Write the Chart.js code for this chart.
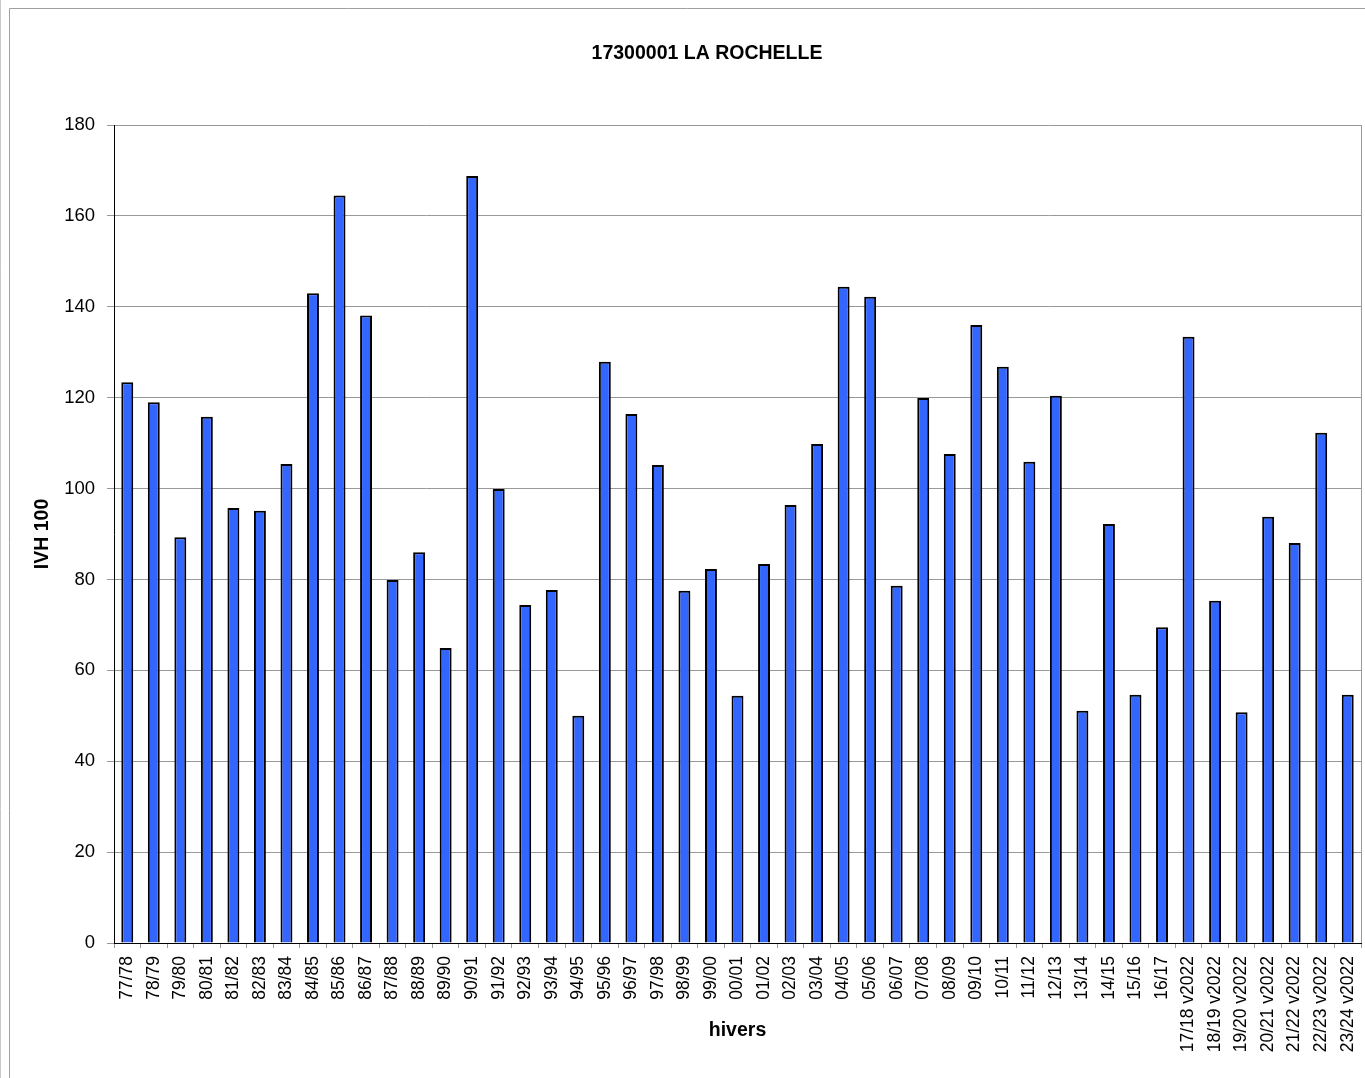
<!DOCTYPE html>
<html>
<head>
<meta charset="utf-8">
<script src="https://cdn.jsdelivr.net/npm/chart.js@4/dist/chart.umd.min.js"></script>
<style>
  html, body { margin: 0; padding: 0; background: #fff; }
  #wrap { width: 1365px; height: 1078px; }
</style>
</head>
<body>
<div id="wrap"><canvas id="ivhChart" width="1365" height="1078"></canvas></div>
<script>
const chartTitle = '17300001 LA ROCHELLE';
const winters = [
    '77/78', '78/79', '79/80', '80/81', '81/82', '82/83', '83/84', '84/85', '85/86', '86/87',
    '87/88', '88/89', '89/90', '90/91', '91/92', '92/93', '93/94', '94/95', '95/96', '96/97',
    '97/98', '98/99', '99/00', '00/01', '01/02', '02/03', '03/04', '04/05', '05/06', '06/07',
    '07/08', '08/09', '09/10', '10/11', '11/12', '12/13', '13/14', '14/15', '15/16', '16/17',
    '17/18 v2022', '18/19 v2022', '19/20 v2022', '20/21 v2022', '21/22 v2022', '22/23 v2022', '23/24 v2022'
];
const ivhValues = [
    123.4, 119.0, 89.3, 115.8, 95.7, 95.1, 105.4, 143.0, 164.5, 138.1,
    79.9, 86.0, 64.9, 168.8, 99.9, 74.4, 77.7, 50.0, 127.9, 116.4,
    105.2, 77.5, 82.3, 54.4, 83.4, 96.4, 109.8, 144.4, 142.2, 78.6,
    119.9, 107.6, 136.0, 126.8, 105.9, 120.4, 51.1, 92.2, 54.6, 69.5,
    133.4, 75.3, 50.8, 93.8, 88.0, 112.3, 54.6
];
const yTicks = [0, 20, 40, 60, 80, 100, 120, 140, 160, 180];

const FONT = 'Arial, "Liberation Sans", sans-serif';

// frame, right border of the plot and the title
const decorations = {
    id: 'decorations',
    afterDraw(chart) {
        const ctx = chart.ctx;
        const area = chart.chartArea;
        ctx.save();
        ctx.strokeStyle = '#a0a0a0';
        ctx.lineWidth = 1;
        ctx.beginPath();
        ctx.moveTo(9.5, 1078);
        ctx.lineTo(9.5, 8.5);
        ctx.lineTo(1365, 8.5);
        ctx.stroke();
        ctx.strokeStyle = '#c8c8c8';
        ctx.beginPath();
        ctx.moveTo(0.5, 0);
        ctx.lineTo(0.5, 1078);
        ctx.stroke();
        ctx.strokeStyle = '#999999';
        ctx.beginPath();
        ctx.moveTo(Math.round(area.right) + 0.5, area.top);
        ctx.lineTo(Math.round(area.right) + 0.5, area.bottom);
        ctx.stroke();
        ctx.fillStyle = '#000';
        ctx.font = 'bold 19.5px ' + FONT;
        ctx.textAlign = 'center';
        ctx.textBaseline = 'middle';
        ctx.fillText(chartTitle, 707, 54);
        ctx.restore();
    }
};

const ctx = document.getElementById('ivhChart').getContext('2d');
new Chart(ctx, {
    type: 'bar',
    data: {
        labels: winters,
        datasets: [{
            label: 'IVH 100',
            data: ivhValues,
            backgroundColor: '#3366ff',
            borderColor: '#000000',
            borderWidth: 2,
            borderSkipped: 'start',
            barPercentage: 0.45,
            categoryPercentage: 1
        }]
    },
    options: {
        responsive: false,
        animation: false,
        layout: {
            padding: { top: 125, left: 0, right: 4, bottom: 0 }
        },
        plugins: {
            legend: { display: false },
            title: { display: false },
            tooltip: { enabled: false }
        },
        scales: {
            x: {
                grid: {
                    offset: true,
                    drawOnChartArea: false,
                    drawTicks: true,
                    tickLength: 5,
                    color: '#999999'
                },
                border: { color: '#000000', width: 1 },
                ticks: {
                    color: '#000',
                    font: { family: FONT, size: 17.5 },
                    maxRotation: 90,
                    minRotation: 90,
                    autoSkip: false,
                    padding: 8
                },
                title: {
                    display: true,
                    text: 'hivers',
                    color: '#000',
                    font: { family: FONT, size: 19.5, weight: 'bold' },
                    padding: { top: 0, bottom: 36 }
                },
                afterFit(scale) {
                    scale.height = 135;
                    scale.paddingLeft = 0;
                    scale.paddingRight = 0;
                }
            },
            y: {
                min: 0,
                max: 180,
                afterBuildTicks(scale) {
                    scale.ticks = yTicks.map(v => ({ value: v }));
                },
                grid: {
                    color: '#999999',
                    lineWidth: 1,
                    drawTicks: true,
                    tickLength: 7
                },
                border: { color: '#000000', width: 1 },
                ticks: {
                    color: '#000',
                    font: { family: FONT, size: 18.5 },
                    padding: 12
                },
                title: {
                    display: true,
                    text: 'IVH 100',
                    color: '#000',
                    font: { family: FONT, size: 19.5, weight: 'bold' },
                    padding: { top: 31, bottom: 0 }
                },
                afterFit(scale) {
                    scale.width = 114;
                }
            }
        }
    },
    plugins: [decorations]
});
</script>
</body>
</html>
